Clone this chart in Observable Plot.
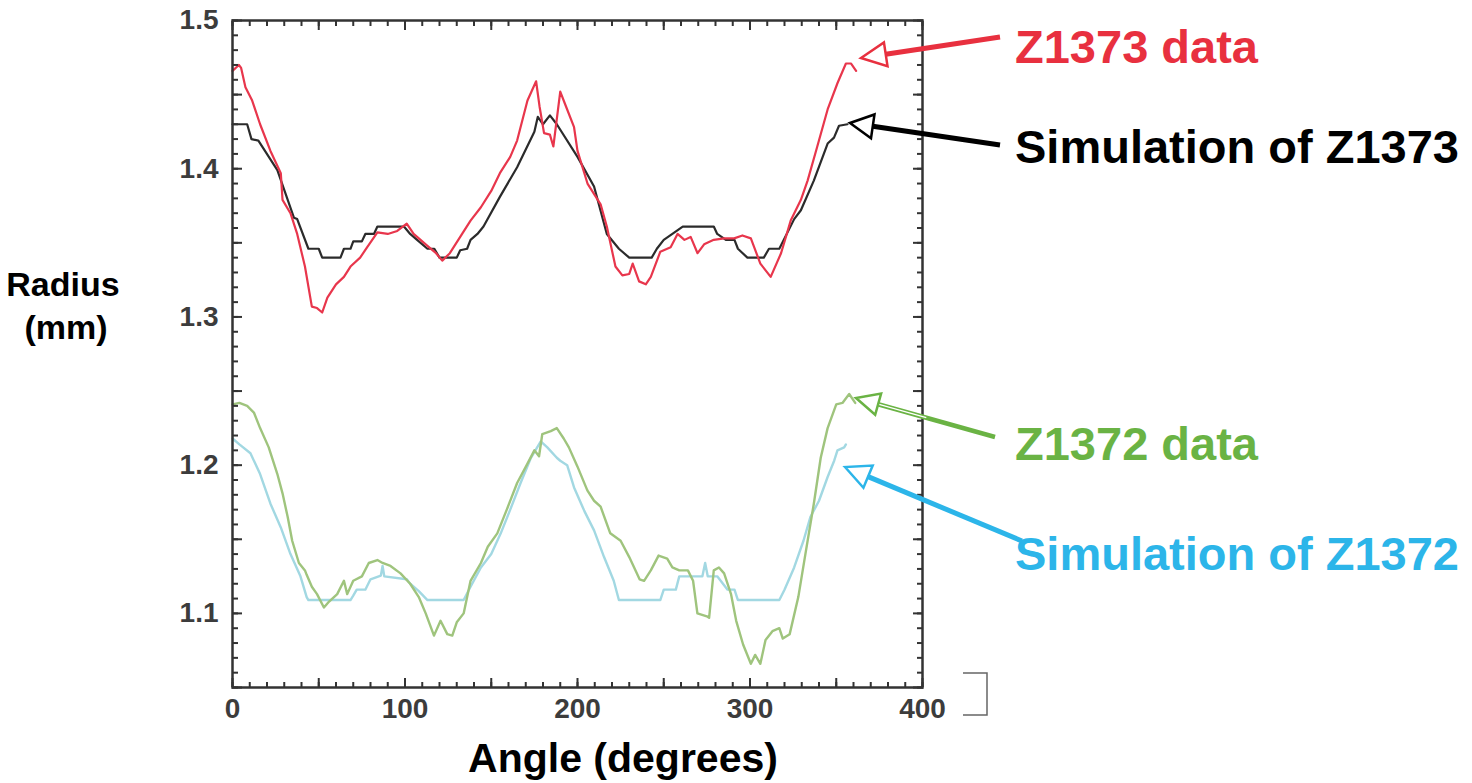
<!DOCTYPE html>
<html>
<head>
<meta charset="utf-8">
<script src="https://cdn.jsdelivr.net/npm/d3@7"></script>
<script src="https://cdn.jsdelivr.net/npm/@observablehq/plot@0.6"></script>
<style>
  html, body { margin: 0; padding: 0; background: #fff; }
  #chart svg { display: block; }
</style>
</head>
<body>
<div id="chart"></div>
<script>
// ---------- data ----------
const z1373DataAngle = [0,3.7,5,7.5,11.4,16,22,28,29,33.6,37.5,42,46,49,52,55,60,64.6,68.4,74,78,84,90,95.5,101,105,113,118,121.6,126,132,138,144,150,155,161,165,171,176,178,180.6,184,186,190,193,198,200,205.8,213.4,217,222,226,230,232,235.7,239.6,242.5,248,254,258,262,265.6,269.6,273.4,279,285,290.8,295.6,300.5,306,312,318,323.6,329.5,333.4,339,345,350.8,355.6,358.5,361.5];
const z1373DataRadius = [1.466,1.470,1.468,1.455,1.446,1.430,1.412,1.397,1.379,1.370,1.356,1.334,1.307,1.306,1.303,1.313,1.322,1.327,1.334,1.340,1.347,1.357,1.356,1.358,1.363,1.356,1.348,1.343,1.338,1.343,1.354,1.365,1.374,1.385,1.397,1.408,1.419,1.446,1.459,1.442,1.424,1.423,1.415,1.452,1.443,1.428,1.412,1.390,1.376,1.361,1.334,1.328,1.329,1.336,1.324,1.322,1.327,1.344,1.347,1.356,1.352,1.354,1.343,1.349,1.352,1.353,1.353,1.355,1.353,1.336,1.327,1.343,1.365,1.379,1.392,1.415,1.440,1.458,1.471,1.471,1.466];

const z1373SimAngle = [0,8.5,11,15,26,35.6,37.5,44,50,52,62.6,64.6,68.4,70,75,77,82,84,99.4,103,107,113,117,120,130,132,136,138,142,145.5,155,165,175,177,180,184,188,200,209.6,217,224,230,243,246,250,255,261,279,281,286,291,293,298.5,308,311,317,325.6,329.5,337,345,348.7,351.6,356.5];
const z1373SimRadius = [1.430,1.430,1.420,1.419,1.399,1.367,1.366,1.346,1.346,1.340,1.340,1.346,1.346,1.351,1.351,1.356,1.356,1.361,1.361,1.356,1.352,1.346,1.346,1.340,1.340,1.345,1.346,1.352,1.356,1.361,1.381,1.401,1.425,1.435,1.430,1.436,1.430,1.408,1.388,1.356,1.346,1.340,1.340,1.346,1.352,1.356,1.361,1.361,1.356,1.352,1.352,1.346,1.340,1.340,1.346,1.346,1.366,1.372,1.392,1.417,1.421,1.429,1.430];

const z1372DataAngle = [0,4,8.5,12.4,16,21,26,29,32,34.6,38.5,42,43,46,49,53,56,60.7,64.6,66.5,70,75,79,84,87,91.6,97.4,103,108,112,116.8,120.6,124.5,127.4,130,134,138,144,148,153.5,159,165,171,175,177.7,179.6,184.5,188,192,195,200,205.7,209.6,213.4,219,225,230,236,238.6,242.5,247,252,255,259,264,267,269.5,275,276.3,279,282,285,289,292,296,300.5,303,306,309,313,317,319,323,328,332.4,337,341,345,350,353.6,357.5,361];
const z1372DataRadius = [1.241,1.242,1.240,1.2355,1.225,1.212,1.194,1.181,1.165,1.149,1.134,1.129,1.126,1.118,1.113,1.104,1.108,1.113,1.122,1.113,1.122,1.125,1.134,1.136,1.134,1.132,1.127,1.120,1.111,1.100,1.085,1.095,1.086,1.085,1.094,1.100,1.122,1.134,1.145,1.154,1.170,1.188,1.201,1.210,1.206,1.221,1.223,1.225,1.218,1.212,1.199,1.183,1.176,1.172,1.154,1.149,1.138,1.123,1.122,1.129,1.139,1.137,1.131,1.129,1.129,1.122,1.100,1.098,1.097,1.129,1.131,1.127,1.113,1.095,1.079,1.066,1.072,1.066,1.082,1.088,1.090,1.083,1.086,1.111,1.142,1.174,1.205,1.225,1.241,1.242,1.248,1.242];

const z1372SimAngle = [0,4,10.4,16,22,28,33.6,39.4,43,44,68.4,70,72,77,80,86,87,88,101,103,108,113,134,138,144,150,155.5,161,167,173,178.7,182.5,188,190,194,198,204,209.6,215.4,221,224,248,250,257,259,272.4,274,275.5,281,283,287,291,293,317,320,325.6,331,335,340,345,348.8,350.7,354.6,355.6];
const z1372SimRadius = [1.218,1.214,1.208,1.194,1.174,1.158,1.140,1.125,1.111,1.109,1.109,1.112,1.116,1.116,1.123,1.1255,1.132,1.125,1.123,1.120,1.115,1.109,1.109,1.118,1.131,1.140,1.154,1.170,1.188,1.205,1.216,1.212,1.205,1.203,1.200,1.185,1.169,1.156,1.138,1.122,1.109,1.109,1.116,1.116,1.125,1.125,1.134,1.125,1.125,1.122,1.116,1.116,1.109,1.109,1.116,1.131,1.149,1.165,1.176,1.192,1.203,1.210,1.212,1.214];

const xTickLabels = [0, 100, 200, 300, 400];
const yTickLabels = [1.1, 1.2, 1.3, 1.4, 1.5];
const xDomain = [0, 400];
const yDomain = [1.05, 1.5];

const seriesLabels = ["Z1373 data", "Simulation of Z1373", "Z1372 data", "Simulation of Z1372"];
const xTitle = "Angle (degrees)";
const yTitle = ["Radius", "(mm)"];

// ---------- build ----------
const toRows = (a, r) => a.map((d, i) => ({angle: d, radius: r[i]}));
const red = toRows(z1373DataAngle, z1373DataRadius);
const black = toRows(z1373SimAngle, z1373SimRadius);
const green = toRows(z1372DataAngle, z1372DataRadius);
const blue = toRows(z1372SimAngle, z1372SimRadius);

const xMinor = d3.range(0, 401, 10);
const xMajor = d3.range(0, 401, 50);
const yMinor = d3.range(105, 151, 1).map(d => d / 100);
const yMajor = d3.range(105, 151, 5).map(d => d / 100);

const FONT = "'Liberation Sans', Arial, Helvetica, sans-serif";
const tickColor = "#333";
const noText = () => "";

const plot = Plot.plot({
  width: 1472,
  height: 783,
  marginLeft: 232,
  marginRight: 550,
  marginTop: 20,
  marginBottom: 96,
  style: {background: "#fff", fontFamily: FONT, overflow: "visible"},
  x: {domain: xDomain},
  y: {domain: yDomain},
  marks: [
    Plot.line(blue, {x: "angle", y: "radius", stroke: "#a2d8e2", strokeWidth: 2.4}),
    Plot.line(green, {x: "angle", y: "radius", stroke: "#9fc47d", strokeWidth: 2.4}),
    Plot.line(black, {x: "angle", y: "radius", stroke: "#2b2b2b", strokeWidth: 2.2}),
    Plot.line(red, {x: "angle", y: "radius", stroke: "#e8364c", strokeWidth: 2.2}),
    // inward ticks on all four sides
    Plot.axisX({anchor: "bottom", ticks: xMinor, tickSize: -5, tickFormat: noText, label: null, stroke: tickColor, strokeWidth: 2}),
    Plot.axisX({anchor: "bottom", ticks: xMajor, tickSize: -9, tickFormat: noText, label: null, stroke: tickColor, strokeWidth: 2}),
    Plot.axisX({anchor: "top", ticks: xMinor, tickSize: -5, tickFormat: noText, label: null, stroke: tickColor, strokeWidth: 2}),
    Plot.axisX({anchor: "top", ticks: xMajor, tickSize: -9, tickFormat: noText, label: null, stroke: tickColor, strokeWidth: 2}),
    Plot.axisY({anchor: "left", ticks: yMinor, tickSize: -6, tickFormat: noText, label: null, stroke: tickColor, strokeWidth: 2}),
    Plot.axisY({anchor: "left", ticks: yMajor, tickSize: -10, tickFormat: noText, label: null, stroke: tickColor, strokeWidth: 2}),
    Plot.axisY({anchor: "right", ticks: yMinor, tickSize: -6, tickFormat: noText, label: null, stroke: tickColor, strokeWidth: 2}),
    Plot.axisY({anchor: "right", ticks: yMajor, tickSize: -10, tickFormat: noText, label: null, stroke: tickColor, strokeWidth: 2}),
    // tick labels
    Plot.axisX({anchor: "bottom", ticks: xTickLabels, tickSize: 0, tickPadding: 11, tickFormat: d => String(d), label: null, fontSize: 28, fontWeight: "bold", fill: "#3c3c3c"}),
    Plot.axisY({anchor: "left", ticks: yTickLabels, tickSize: 0, tickPadding: 14, tickFormat: d => d.toFixed(1), label: null, fontSize: 28, fontWeight: "bold", fill: "#3c3c3c"}),
    Plot.frame({stroke: "#333", strokeWidth: 2.5})
  ]
});

document.getElementById("chart").appendChild(plot);

// ---------- annotations (pixel layout) ----------
const svg = d3.select(plot);
const g = svg.append("g").attr("font-family", FONT).attr("font-weight", "bold");

// axis titles
g.append("text").attr("x", 63).attr("y", 296).attr("text-anchor", "middle")
  .attr("font-size", 34).attr("fill", "#000").text(yTitle[0]);
g.append("text").attr("x", 66).attr("y", 339).attr("text-anchor", "middle")
  .attr("font-size", 34).attr("fill", "#000").text(yTitle[1]);
g.append("text").attr("x", 623).attr("y", 772).attr("text-anchor", "middle")
  .attr("font-size", 41).attr("fill", "#000").text(xTitle);

// series labels
const labelSpecs = [
  {text: seriesLabels[0], y: 63, color: "#e8303f"},
  {text: seriesLabels[1], y: 163, color: "#000"},
  {text: seriesLabels[2], y: 460, color: "#6ab344"},
  {text: seriesLabels[3], y: 570, color: "#2cb5e9"}
];
labelSpecs.forEach(s => {
  g.append("text").attr("x", 1015).attr("y", s.y).attr("font-size", 47)
    .attr("text-anchor", "start").attr("fill", s.color).text(s.text);
});

// open-headed arrows
function arrow(tip, tail, color, width, headLen, headHalf, doubled) {
  const dx = tail[0] - tip[0], dy = tail[1] - tip[1];
  const L = Math.hypot(dx, dy);
  const ux = dx / L, uy = dy / L, px = -uy, py = ux;
  const base = [tip[0] + ux * headLen, tip[1] + uy * headLen];
  g.append("line").attr("x1", base[0]).attr("y1", base[1]).attr("x2", tail[0]).attr("y2", tail[1])
    .attr("stroke", color).attr("stroke-width", width);
  if (doubled) {
    const mid = [base[0] + ux * 50, base[1] + uy * 50];
    g.append("line").attr("x1", base[0]).attr("y1", base[1]).attr("x2", mid[0]).attr("y2", mid[1])
      .attr("stroke", "#fff").attr("stroke-width", 1.3);
  }
  const c1 = [base[0] + px * headHalf, base[1] + py * headHalf];
  const c2 = [base[0] - px * headHalf, base[1] - py * headHalf];
  g.append("path").attr("d", `M${tip[0]},${tip[1]}L${c1[0]},${c1[1]}L${c2[0]},${c2[1]}Z`)
    .attr("fill", "#fff").attr("stroke", color).attr("stroke-width", 2.5).attr("stroke-linejoin", "miter");
}
arrow([861, 58], [1000, 37], "#e8303f", 5, 25, 12, false);
arrow([850, 123], [1000, 145], "#000", 5, 23, 12, false);
arrow([856, 398], [995, 437], "#6ab344", 4.5, 23, 11, true);
arrow([845, 467], [1022, 541], "#2cb5e9", 5, 25, 12, false);

// small bracket at bottom right
g.append("path").attr("d", "M963,673H987V715H963").attr("fill", "none")
  .attr("stroke", "#666").attr("stroke-width", 1.5);
</script>
</body>
</html>
